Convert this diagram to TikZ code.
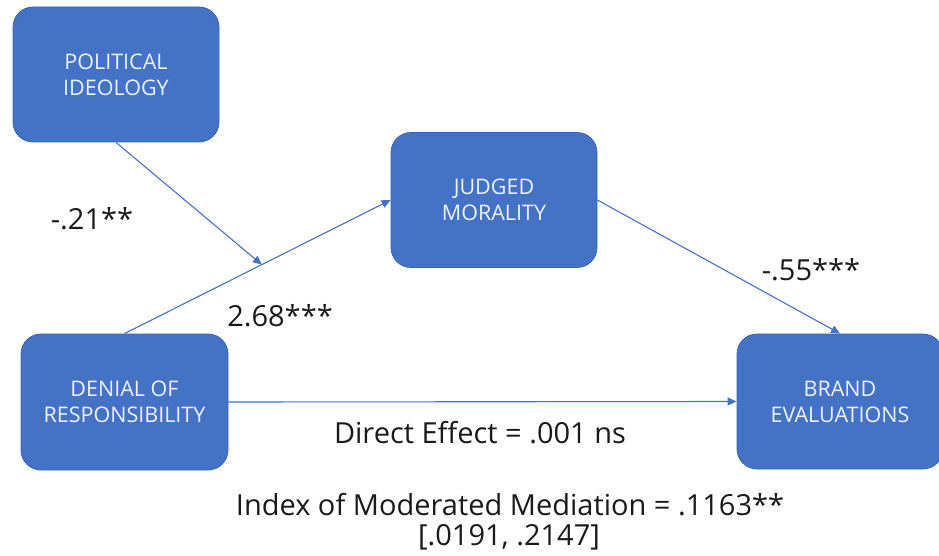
\documentclass[tikz,border=0pt]{standalone}
\usepackage{fontspec}
\setmainfont{Open Sans}
\usetikzlibrary{arrows.meta,calc}
\definecolor{boxblue}{HTML}{4472C4}
\definecolor{boxedge}{HTML}{3A64AE}
\definecolor{boxtext}{HTML}{EEF1F8}
\definecolor{labeltext}{HTML}{1A1A1A}
\tikzset{
  varbox/.style={draw=boxedge, line width=0.8pt, fill=boxblue, rounded corners=20pt,
    minimum width=206pt, minimum height=135pt, text=boxtext, align=center,
    font=\fontsize{21.5}{26}\selectfont, inner sep=0pt},
  conn/.style={draw=boxblue, line width=1.1pt, -{Triangle[length=9pt,width=8pt]}},
  lbl/.style={text=labeltext, font=\fontsize{29}{30}\selectfont, inner sep=0pt, align=center}
}
\begin{document}
\begin{tikzpicture}[x=1pt,y=-1pt]
\useasboundingbox (0,0) rectangle (939,556);
\node[varbox] (PI) at (116,74.5) {POLITICAL\\IDEOLOGY};
\node[varbox] (JM) at (494,200) {JUDGED\\MORALITY};
\node[varbox, minimum width=207pt, minimum height=136pt] (DR) at (124.5,402) {DENIAL OF\\RESPONSIBILITY};
\node[varbox] (BE) at (840,401.5) {BRAND\\EVALUATIONS};
\coordinate (M) at ($(DR.north)!0.516!(JM.west)$);
\draw[conn] (DR.north) -- (JM.west);
\draw[conn] (PI.south) -- (M);
\draw[conn] (JM.east) -- (BE.north);
\draw[conn] (DR.east) -- (BE.west);
\node[lbl] (l1) at (92,219) {-.21**};
\node[lbl] (l2) at (280,316) {2.68***};
\node[lbl] (l3) at (811,270) {-.55***};
\node[lbl] (l4) at (480,433) {Direct Effect = .001 ns};
\node[lbl, anchor=base] (l5) at (510,515) {Index of Moderated Mediation = .1163**};
\node[lbl, anchor=base] (l6) at (509,545) {[.0191, .2147]};
\end{tikzpicture}
\end{document}
